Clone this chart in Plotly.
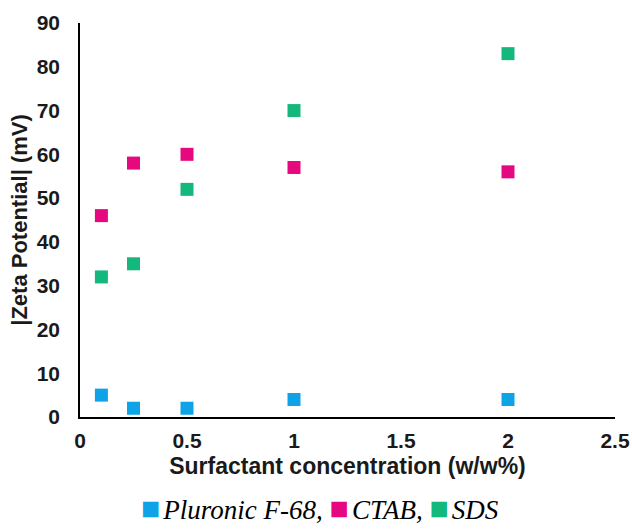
import plotly.graph_objects as go

# Surfactant concentration (w/w%)
concentration = [0.1, 0.25, 0.5, 1, 2]

# |Zeta potential| (mV) for each surfactant
pluronic = [5, 2, 2, 4, 4]
ctab = [46, 58, 60, 57, 56]
sds = [32, 35, 52, 70, 83]

series_names = ["Pluronic F-68", "CTAB", "SDS"]
series_colors = ["#0ea2e6", "#e5087e", "#14b87c"]

x_ticks = [0, 0.5, 1, 1.5, 2, 2.5]
x_tick_text = ["0", "0.5", "1", "1.5", "2", "2.5"]
y_ticks = [0, 10, 20, 30, 40, 50, 60, 70, 80, 90]

fig = go.Figure()
for name, values, color in zip(series_names, [pluronic, ctab, sds], series_colors):
    fig.add_trace(go.Scatter(
        x=concentration, y=values, mode="markers", name=name,
        marker=dict(symbol="square", size=13, color=color, line=dict(width=0)),
        cliponaxis=False, showlegend=False,
    ))

# Key line under the chart: coloured square followed by the italic series name
key_parts = []
for i, (name, color) in enumerate(zip(series_names, series_colors)):
    sep = "," if i < len(series_names) - 1 else ""
    key_parts.append(
        f"<span style='color:{color};font-size:32px'>■</span>"
        f"<span style='font-size:12px'> </span><i>{name}{sep}</i>"
    )
key_text = " ".join(key_parts)

fig.add_annotation(
    text=key_text, xref="paper", yref="paper", x=0.449, y=-0.232,
    xanchor="center", yanchor="middle", showarrow=False,
    font=dict(family="Liberation Serif, Times New Roman, serif", size=27, color="black"),
)

tick_font = dict(family="Liberation Sans, Arial, sans-serif", size=21, color="#1a1a1a",
                 weight="bold")

fig.update_layout(
    width=632, height=530,
    margin=dict(l=80, r=17, t=23, b=113, autoexpand=False),
    paper_bgcolor="white", plot_bgcolor="white",
    font=dict(family="Liberation Sans, Arial, sans-serif"),
    xaxis=dict(
        range=[0, 2.5], tickvals=x_ticks, ticktext=x_tick_text,
        showgrid=False, zeroline=False, showline=True, linecolor="black", linewidth=1.5,
        ticks="", tickfont=tick_font, ticklabelstandoff=4, automargin=False,
        title=dict(text="<b>Surfactant concentration (w/w%)</b>",
                   font=dict(family="Liberation Sans, Arial, sans-serif", size=23,
                             color="#1a1a1a"), standoff=7),
    ),
    yaxis=dict(
        range=[0, 90], tickvals=y_ticks,
        showgrid=False, zeroline=False, showline=True, linecolor="black", linewidth=1.5,
        ticks="", tickfont=tick_font, ticklabelstandoff=14, automargin=False,
        title=dict(text="<b>|Zeta Potential| (mV)</b>",
                   font=dict(family="Liberation Sans, Arial, sans-serif", size=22,
                             color="#1a1a1a"), standoff=3),
    ),
)

fig.write_html("out.html")
